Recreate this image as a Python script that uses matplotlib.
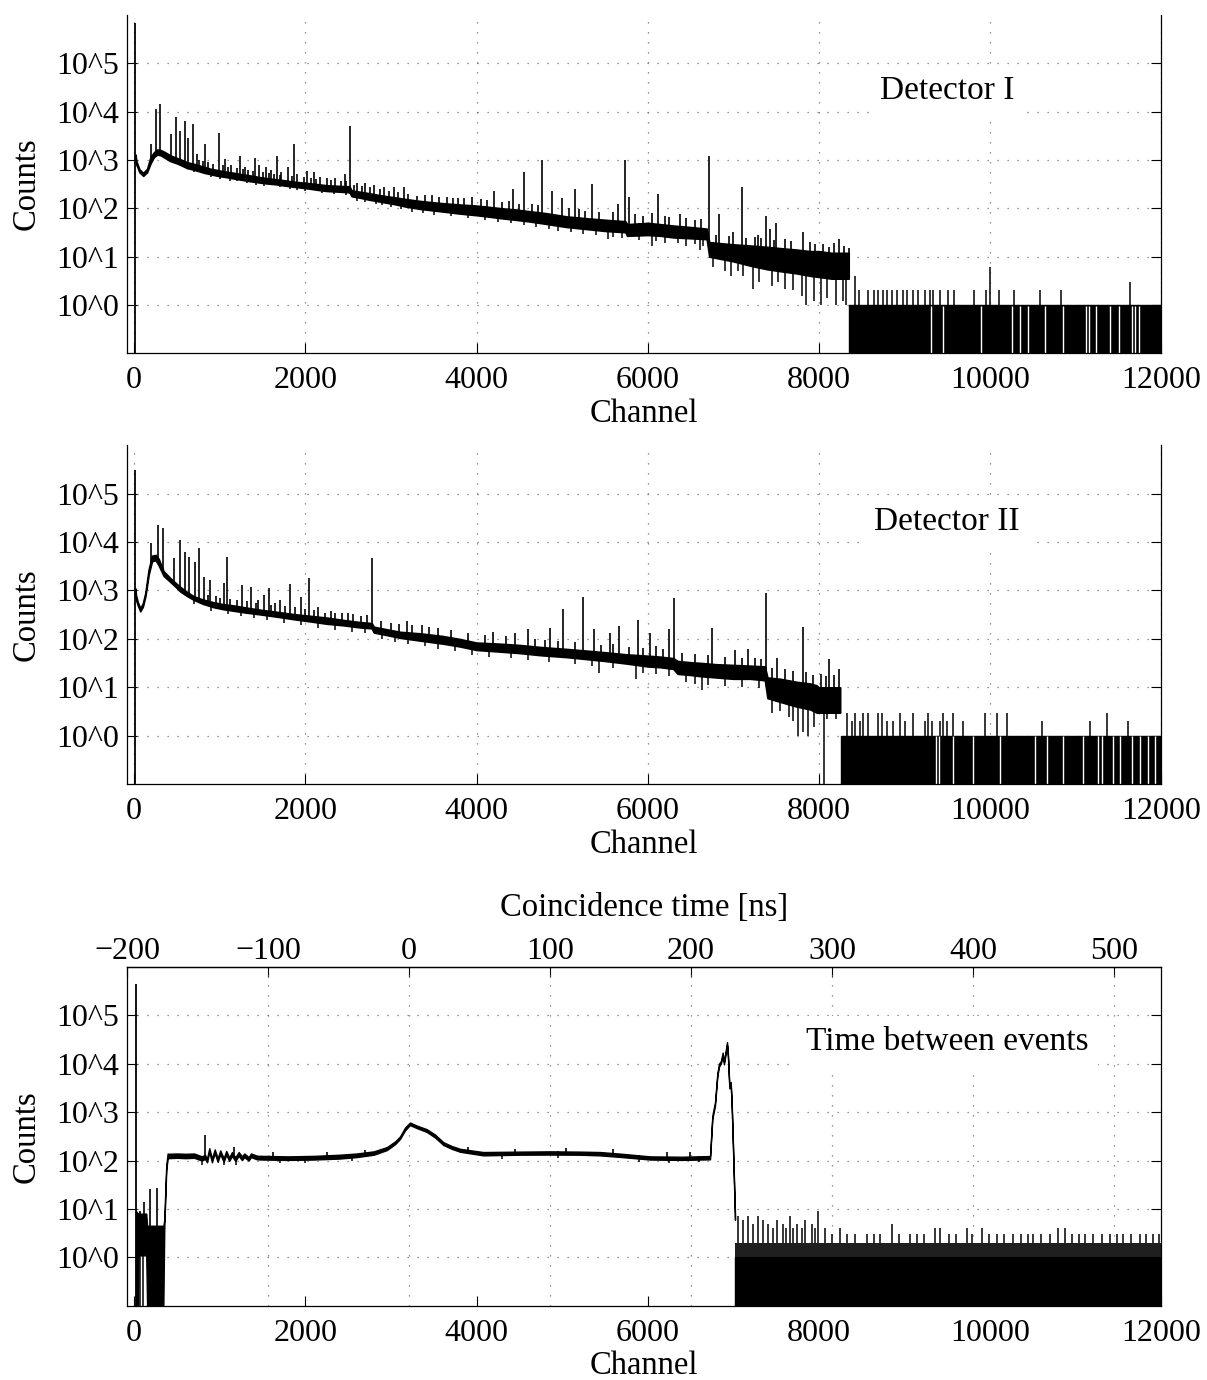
import numpy as np
import matplotlib
matplotlib.use('Agg')
import matplotlib.pyplot as plt
from matplotlib.ticker import NullLocator

plt.rcParams['font.family'] = ['Liberation Serif', 'DejaVu Serif']
plt.rcParams['font.size'] = 23.5

# axis ticks
x_ticks = [0, 2000, 4000, 6000, 8000, 10000, 12000]
y_exp = [0, 1, 2, 3, 4, 5]
ns_ticks = [-200, -100, 0, 100, 200, 300, 400, 500]
ns_zero_ch = 3211.0   # channel of 0 ns
ch_per_ns = 16.48

# ---------------- Detector I ----------------
d1_start = [10, 7.0e5]
d1_ch = [14, 25, 60, 105, 150, 190, 230, 270, 310, 360, 420, 500, 560, 616, 680, 750, 820, 888, 950, 1010,
         1083, 1160, 1250, 1350, 1473, 1560, 1650, 1760, 1863, 1950, 2050, 2150, 2252, 2380, 2515, 2540, 2642,
         2750, 2850, 2950, 3032, 3180, 3343, 3480, 3600, 3800, 4000, 4150, 4300, 4450, 4600, 4800, 5054, 5300,
         5500, 5740, 5760, 6000, 6150, 6300, 6500, 6690, 6720, 6850, 7000, 7200, 7392, 7550, 7742, 7900, 8000,
         8150, 8350]
d1_lo = [1000, 800, 560, 470, 560, 850, 1150, 1300, 1250, 1100, 950, 850, 760, 680, 640, 590, 540, 510, 480, 460,
         440, 415, 390, 365, 340, 325, 315, 295, 280, 268, 255, 240, 228, 222, 215, 178, 165,
         150, 140, 130, 123, 108, 97, 91, 86, 78, 72, 67, 62, 58, 54, 48, 41, 37,
         34, 32, 27, 28, 27, 25, 24, 23, 10, 9, 8, 6.5, 5.5, 5, 4.5, 4, 3.8,
         3.5, 3.5]
d1_hi = [1300, 950, 640, 540, 660, 1150, 1450, 1650, 1600, 1450, 1250, 1100, 1000, 900, 850, 780, 720, 660, 630, 600,
         570, 545, 510, 480, 440, 420, 400, 380, 355, 345, 330, 315, 300, 292, 285, 235, 220,
         205, 190, 178, 170, 155, 142, 134, 128, 120, 114, 107, 100, 95, 88, 80, 68, 62,
         58, 54, 47, 50, 47, 44, 41, 38, 20, 19, 18, 17, 16, 15, 14, 13, 13,
         12, 12]
d1_pk_ch = [196, 254, 304, 429, 487, 538, 589, 633, 682, 732, 830, 986, 1063, 1130, 1239, 1300, 1414, 1460, 1544,
            1600, 1668, 1720, 1800, 1863, 1900, 2019, 2100, 2175, 2250, 2350, 2467, 2525, 2600, 2700, 2800, 2916,
            3032, 3149, 3300, 3560, 3780, 3950, 4204, 4422, 4555, 4769, 4882, 4997, 5151, 5346, 5657, 5735, 5782,
            6121, 6378, 6713, 6834, 7000, 7099, 7293, 7383, 7430, 7500, 7820, 8237, 8353]
d1_pk_ct = [2100, 11200, 14100, 3400, 7600, 4000, 6500, 2900, 5500, 1300, 2100, 3700, 1050, 800, 1230, 700, 1120, 800, 700,
            620, 1230, 560, 700, 2100, 520, 600, 560, 440, 430, 420, 510, 5100, 340, 330, 300, 270,
            270, 270, 180, 170, 165, 170, 230, 250, 575, 980, 224, 160, 250, 316, 125, 1000, 170,
            200, 75, 1200, 78, 33, 275, 28, 68, 38, 50, 32, 23, 15]
d1_up_ch = [760, 800, 860, 920, 1040, 1100, 1200, 1270, 1330, 1390, 1500, 1580, 1630, 1700, 1840, 1980, 2060, 2130,
            2300, 2420, 2480, 2570, 2660, 2760, 2870, 2980, 3080, 3200, 3400, 3480, 3650, 3720, 3850, 4050, 4120,
            4300, 4380, 4500, 4650, 4720, 5080, 5200, 5270, 5430, 5600, 5850, 5950, 6050, 6200, 6250, 6450, 6550,
            6620, 6800, 6950, 7150, 7250, 7330, 7480, 7600, 7680, 7900, 7960, 8050, 8120, 8180, 8300]
d1_up_ct = [1000, 950, 900, 820, 780, 700, 690, 650, 620, 600, 560, 540, 520, 500, 460, 440, 430, 410,
            390, 370, 360, 300, 290, 270, 250, 230, 215, 200, 190, 185, 175, 160, 160, 155, 150,
            135, 145, 125, 120, 115, 100, 95, 90, 82, 85, 75, 70, 80, 68, 66, 62, 56,
            60, 28, 27, 24, 26, 24, 22, 23, 21, 20, 18, 18, 16, 19, 17]
d1_dn_ch = [700, 900, 1000, 1120, 1200, 1320, 1420, 1520, 1700, 1820, 1900, 2000, 2200, 2330, 2470, 2600, 2700,
            2820, 2900, 3000, 3120, 3250, 3380, 3500, 3700, 3900, 4100, 4250, 4400, 4550, 4700, 4850, 4950, 5100,
            5250, 5400, 5533, 5600, 5700, 5900, 6054, 6100, 6200, 6350, 6445, 6550, 6610, 6650, 6760, 6900, 6980,
            7060, 7120, 7235, 7300, 7450, 7520, 7607, 7700, 7800, 7850, 7950, 8030, 8100, 8200, 8280, 8320]
d1_dn_ct = [560, 440, 400, 370, 360, 330, 300, 290, 270, 250, 235, 225, 205, 195, 190, 145, 135,
            125, 115, 105, 95, 85, 80, 74, 68, 62, 58, 52, 49, 45, 41, 38, 34, 33,
            30, 28, 23, 26, 24, 22, 17, 21, 19, 19, 17, 18, 14, 17, 6, 5, 4,
            5, 4, 2.1, 3, 2.5, 3, 2.1, 2, 1.5, 1, 1.2, 1, 1.4, 1, 1.2, 1]
d1_tail = [8357, 12000]
d1_gaps = [9312, 9449, 9896, 10255, 10352, 10442, 10644, 10858, 11124, 11162, 11237, 11404, 11513, 11661, 11700, 11746]
d1_sp_ch = [8423, 8474, 8579, 8646, 8696, 8747, 8801, 8852, 8911, 8988, 9035, 9105, 9164, 9245, 9300, 9339, 9417,
            9507, 9581, 9818, 9951, 10002, 10110, 10286, 10586, 10828, 11638]
d1_sp_ct = [4, 2, 2, 2, 2, 2, 2, 2, 2, 2, 2, 2, 2, 2, 2, 2, 2,
            2, 2, 2, 2, 6, 2, 2, 2, 2, 3]

# ---------------- Detector II ----------------
d2_start = [8, 3.0e5]
d2_ch = [12, 20, 40, 70, 100, 130, 168, 207, 250, 285, 343, 421, 480, 538, 610, 694, 800, 928, 1040, 1162,
         1300, 1473, 1650, 1863, 2050, 2252, 2450, 2642, 2775, 2800, 2950, 3106, 3343, 3600, 3800, 4000, 4250,
         4500, 4750, 5054, 5300, 5500, 5750, 6000, 6150, 6300, 6350, 6500, 6613, 6800, 7000, 7200, 7370, 7400,
         7550, 7742, 7900, 7975, 8000, 8150, 8250]
d2_lo = [800, 650, 500, 370, 460, 760, 2100, 4000, 4200, 3300, 2000, 1500, 1200, 950, 780, 640, 530, 450, 410, 380,
         350, 320, 290, 255, 230, 205, 190, 172, 165, 135, 120, 105, 92, 80, 70, 59, 55,
         51, 46, 42, 38, 35, 31, 27, 26, 24, 19, 18, 17, 16, 15, 15, 14, 6,
         5, 4, 3.5, 3, 3, 3, 3]
d2_hi = [1100, 800, 580, 430, 540, 900, 2700, 5200, 5400, 4500, 2500, 1800, 1450, 1180, 950, 760, 650, 570, 520, 490,
         445, 400, 365, 325, 300, 275, 245, 222, 212, 178, 158, 140, 130, 115, 100, 84, 80,
         75, 68, 62, 57, 53, 48, 45, 43, 40, 35, 33, 32, 30, 29, 28, 27, 16,
         15, 13, 12, 11, 10, 10, 10]
d2_pk_ch = [199, 277, 332, 460, 530, 596, 643, 713, 760, 810, 888, 1044, 1083, 1259, 1364, 1512, 1571, 1707, 1824,
            1948, 2046, 2233, 2350, 2428, 2778, 3188, 3363, 4196, 4605, 4858, 5007, 5240, 5376, 5556, 5665, 5884,
            6030, 6245, 6308, 6748, 7020, 7170, 7383, 7516, 7812, 8123, 8240]
d2_pk_ct = [9300, 21900, 19000, 4600, 11000, 6300, 5000, 3900, 7400, 1900, 1660, 1400, 4800, 1290, 1170, 810, 1100, 630, 1350,
            740, 1780, 340, 340, 340, 4600, 230, 195, 140, 158, 166, 420, 720, 160, 130, 186, 240,
            130, 158, 690, 166, 59, 63, 870, 41, 174, 38, 24]
d2_up_ch = [860, 960, 1000, 1120, 1200, 1320, 1420, 1450, 1600, 1650, 1760, 1880, 2000, 2100, 2150, 2300, 2500,
            2560, 2650, 2720, 2880, 3000, 3100, 3250, 3450, 3550, 3700, 3900, 4100, 4350, 4450, 4680, 4800, 4950,
            5150, 5450, 5600, 5780, 5950, 6100, 6180, 6400, 6550, 6700, 6900, 7100, 7250, 7320, 7450, 7600, 7700,
            7850, 7930, 8030, 8080, 8180]
d2_up_ct = [800, 750, 700, 680, 640, 600, 560, 640, 500, 560, 470, 450, 420, 400, 460, 370, 340,
            320, 300, 310, 230, 215, 200, 195, 175, 170, 150, 135, 120, 115, 130, 100, 95, 92,
            85, 75, 78, 68, 66, 70, 62, 52, 48, 46, 42, 40, 41, 38, 25, 24, 22,
            21, 18, 19, 17, 18]
d2_dn_ch = [700, 900, 1100, 1250, 1400, 1550, 1750, 1950, 2150, 2350, 2550, 2700, 2900, 3050, 3200, 3400, 3550,
            3750, 3950, 4150, 4400, 4600, 4850, 5150, 5350, 5430, 5600, 5860, 5950, 6100, 6250, 6450, 6550, 6630,
            6700, 6900, 7100, 7300, 7450, 7547, 7650, 7700, 7757, 7820, 7880, 7950, 8060, 8100, 8200]
d2_dn_ct = [520, 380, 330, 300, 270, 240, 210, 190, 165, 150, 140, 130, 100, 88, 78, 70, 63,
            55, 46, 43, 40, 36, 33, 30, 27, 20, 25, 15, 20, 19, 17, 13, 12, 9,
            11, 10.5, 10, 9.5, 3, 3.2, 2.5, 2, 1.0, 1.2, 1, 1.5, 0, 2.2, 2.2]
d2_tail = [8257, 12000]
d2_gaps = [9370, 9409, 9573, 9799, 10118, 10528, 10664, 10858, 11092, 11267, 11306, 11443, 11521, 11657, 11755,
           11852, 11930]
d2_sp_ch = [8327, 8385, 8423, 8482, 8521, 8579, 8696, 8735, 8794, 8872, 8950, 9008, 9105, 9242, 9281, 9320, 9417,
            9456, 9495, 9573, 9690, 9943, 10080, 10197, 10613, 11170, 11366, 11618]
d2_sp_ct = [3, 2, 3, 2, 3, 3, 3, 3, 2, 2, 3, 2, 3, 2, 3, 2, 2,
            3, 2, 3, 2, 3, 3, 3, 2, 2, 3, 2]

# ---------------- Time between events ----------------
t_start = [16, 4.5e5]
t_ch = [20, 45, 50, 140, 150, 340, 351, 362, 374, 390, 400, 500, 600, 700, 790, 826, 850, 877, 908, 940, 975,
        1005, 1045, 1075, 1110, 1142, 1181, 1220, 1259, 1286, 1337, 1364, 1434, 1500, 1800, 2100, 2400, 2600,
        2800, 2953, 3050, 3106, 3164, 3222, 3300, 3418, 3515, 3612, 3709, 3807, 4079, 4500, 4859, 5200, 5443,
        5700, 6028, 6400, 6729, 6756, 6787, 6815, 6834, 6857, 6877, 6892, 6912, 6928, 6939, 6955, 6971, 6982,
        6994, 7021]
t_lo = [0, 0, 1.1, 1.1, 0, 0, 4, 15, 62, 112, 112, 114, 112, 114, 100, 108, 92, 150, 92, 142, 94,
        135, 94, 132, 98, 125, 98, 125, 102, 118, 100, 118, 106, 105, 103, 105, 110, 118,
        132, 165, 220, 280, 420, 540, 470, 390, 300, 210, 175, 152, 128, 132, 133, 132, 128,
        118, 105, 103, 106, 720, 1350, 5600, 8700, 10200, 15200, 9700, 16300, 24500, 13300, 3100, 3700, 1420,
        285, 6]
t_hi = [9, 8, 8, 8, 4.5, 4.5, 6, 22, 80, 140, 138, 140, 138, 140, 122, 132, 110, 180, 110, 170, 112,
        162, 112, 158, 116, 150, 116, 150, 122, 140, 118, 140, 126, 125, 122, 125, 132, 140,
        155, 190, 250, 315, 480, 610, 530, 445, 345, 240, 200, 175, 150, 153, 155, 153, 150,
        138, 122, 120, 124, 850, 1600, 6500, 10000, 11500, 17000, 11000, 18500, 28000, 15000, 3600, 4200, 1600,
        340, 8]
t_pk_ch = [70, 110, 180, 265, 830, 1160, 1620, 2250, 2700, 3900, 4450, 5050, 5600, 6230, 6500]
t_pk_ct = [9, 14, 26, 27, 330, 190, 150, 148, 165, 195, 175, 180, 170, 150, 150]
t_dn_ch = [40, 65, 100, 790, 1050, 1190, 1700, 2000, 2550, 4300, 4950, 5900, 6250, 6600]
t_dn_ct = [0, 0, 0, 80, 80, 82, 88, 90, 96, 110, 112, 95, 90, 92]
t_tail = [7021, 12000]
t_sp_ch = [7060, 7118, 7177, 7235, 7293, 7352, 7410, 7460, 7508, 7586, 7620, 7664, 7700, 7742, 7800, 7840, 7918,
           7960, 7996, 8074, 8150, 8250, 8330, 8420, 8561, 8640, 8720, 8853, 8940, 9067, 9150, 9230, 9359, 9417,
           9520, 9600, 9729, 9787, 9904, 9990, 10080, 10160, 10274, 10360, 10440, 10508, 10600, 10700, 10800,
           10878, 10960, 11040, 11112, 11200, 11306, 11400, 11480, 11560, 11650, 11755, 11830, 11910, 11980]
t_sp_ct = [7, 6, 7, 5, 7, 6, 5, 4, 6, 5, 4, 7, 4, 5, 4, 6, 5,
           4, 9, 4, 3, 4, 3, 3, 3, 3, 3, 5, 3, 3, 3, 3, 4, 4,
           3, 3, 4, 3, 4, 3, 3, 3, 3, 3, 3, 3, 3, 3, 4,
           4, 3, 3, 3, 3, 3, 3, 3, 3, 3, 3, 3, 3, 3]

YMIN, YMAX = 0.1, 1e6
XMIN, XMAX = -85, 12000
grid_kw = dict(color='0.45', linestyle=(0, (1, 7)), linewidth=0.9)


def ch2ns(c):
    return (np.asarray(c, dtype=float) - ns_zero_ch) / ch_per_ns


def ns2ch(t):
    return np.asarray(t, dtype=float) * ch_per_ns + ns_zero_ch


def draw_spectrum(ax, start, ch, lo, hi, tail, sp_ch, sp_ct, hairs_up, hairs_dn, gaps=None, edge=1.2):
    lo = np.clip(lo, YMIN, None)
    ax.vlines(start[0], YMIN, start[1], color='k', lw=1.3, zorder=2)
    ax.fill_between(ch, lo, hi, facecolor='k', edgecolor='k', lw=edge, zorder=2)
    for up_ch, up_ct in hairs_up:
        base = np.interp(up_ch, ch, lo)
        ax.vlines(up_ch, base, up_ct, color='k', lw=1.2, zorder=2)
    for dn_ch, dn_ct in hairs_dn:
        top = np.interp(dn_ch, ch, hi)
        ax.vlines(dn_ch, np.clip(dn_ct, YMIN, None), top, color='k', lw=1.1, zorder=2)
    ax.fill_between(tail, YMIN, 1, facecolor='k', edgecolor='k', lw=1, zorder=2)
    if gaps is not None:
        ax.vlines(gaps, YMIN, 0.97, color='w', lw=1.0, zorder=2.1)
    ax.vlines(sp_ch, 1, sp_ct, color='k', lw=1.1, zorder=2)


def style_axes(ax, vgrid=True):
    ax.set_yscale('log')
    ax.set_xlim(XMIN, XMAX)
    ax.set_ylim(YMIN, YMAX)
    ax.set_xticks(x_ticks)
    ax.set_yticks([10.0 ** e for e in y_exp])
    ax.set_yticklabels(['10^%d' % e for e in y_exp])
    ax.yaxis.set_minor_locator(NullLocator())
    ax.tick_params(direction='in', length=7.5, width=0.8, right=True, top=False, labelsize=23)
    ax.tick_params(axis='x', pad=9.5)
    ax.tick_params(axis='y', pad=6)
    ax.grid(True, axis='y', **grid_kw)
    if vgrid:
        ax.grid(True, axis='x', **grid_kw)
    ax.set_axisbelow('line')
    ax.set_ylabel('Counts', labelpad=10)
    ax.set_xlabel('Channel', labelpad=2)
    for s in ax.spines.values():
        s.set_linewidth(0.9)


fig = plt.figure(figsize=(12.07, 13.8), dpi=100)
ax1 = fig.add_axes([0.1052, 0.7440, 0.8567, 0.2451])
ax2 = fig.add_axes([0.1052, 0.4317, 0.8567, 0.2458])
ax3 = fig.add_axes([0.1052, 0.0538, 0.8567, 0.2455])

box = dict(boxstyle='square,pad=0.3', facecolor='white', edgecolor='none')

style_axes(ax1)
ax1.spines['top'].set_visible(False)
draw_spectrum(ax1, d1_start, d1_ch, d1_lo, d1_hi, d1_tail, d1_sp_ch, d1_sp_ct,
              [(d1_pk_ch, d1_pk_ct), (d1_up_ch, d1_up_ct)], [(d1_dn_ch, d1_dn_ct)], d1_gaps)
ax1.text(9500, 1.8e4, 'Detector I', ha='center', va='baseline', fontsize=24, bbox=box, zorder=3)

style_axes(ax2)
ax2.spines['top'].set_visible(False)
draw_spectrum(ax2, d2_start, d2_ch, d2_lo, d2_hi, d2_tail, d2_sp_ch, d2_sp_ct,
              [(d2_pk_ch, d2_pk_ct), (d2_up_ch, d2_up_ct)], [(d2_dn_ch, d2_dn_ct)], d2_gaps)
ax2.text(9500, 1.8e4, 'Detector II', ha='center', va='baseline', fontsize=24, bbox=box, zorder=3)

style_axes(ax3, vgrid=False)
ax3.vlines(ns2ch(ns_ticks[1:]), 0, 1, transform=ax3.get_xaxis_transform(), zorder=1, **grid_kw)
draw_spectrum(ax3, t_start, t_ch, t_lo, t_hi, t_tail, t_sp_ch, t_sp_ct,
              [(t_pk_ch, t_pk_ct)], [(t_dn_ch, t_dn_ct)], edge=1.0)
ax3.fill_between(t_tail, 1, 2, facecolor='0.12', edgecolor='none', zorder=2)
ax3.text(9500, 1.95e4, 'Time between events', ha='center', va='baseline', fontsize=24, bbox=box, zorder=3)
sec = ax3.secondary_xaxis('top', functions=(ch2ns, ns2ch))
sec.set_xticks(ns_ticks)
sec.tick_params(direction='in', length=7.5, width=0.8, labelsize=23, pad=1)
sec.set_xlabel('Coincidence time [ns]', labelpad=15)
sec.spines['top'].set_linewidth(0.9)

fig.savefig('out.png', dpi=100)
